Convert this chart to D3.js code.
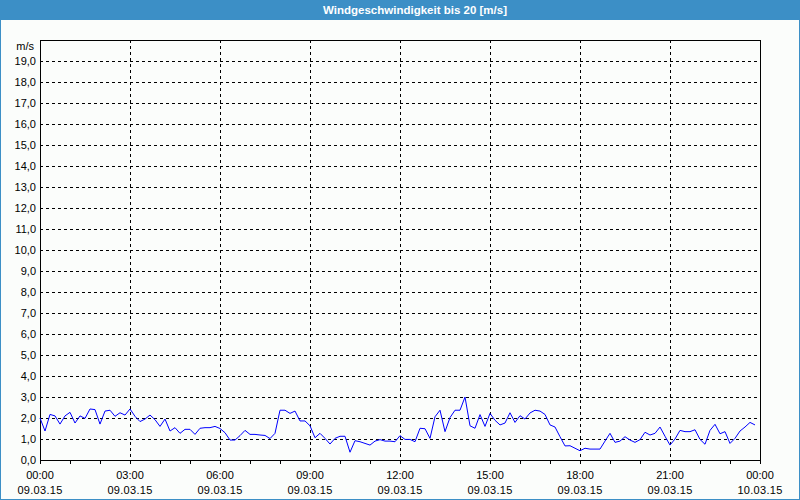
<!DOCTYPE html>
<html>
<head>
<meta charset="utf-8">
<script src="https://cdn.jsdelivr.net/npm/d3@7"></script>
<style>
html,body{margin:0;padding:0;background:#fbfdfb;}
svg{display:block;}
text{font-family:"Liberation Sans",Arial,sans-serif;}
</style>
</head>
<body>
<svg id="chart" width="800" height="500"></svg>
<script>
const title = "Windgeschwindigkeit bis 20 [m/s]";
const unitLabel = "m/s";
const startTime = "2015-03-09T00:00:00";
const stepMinutes = 10;
const windSpeed = [
  2.00,1.38,2.17,2.10,1.71,2.10,2.27,1.76,2.10,1.98,2.43,2.40,1.71,2.33,2.37,2.08,2.25,2.14,
  2.43,2.08,1.83,1.95,2.14,1.92,1.60,1.95,1.38,1.54,1.27,1.46,1.46,1.22,1.51,1.54,1.54,1.60,
  1.50,1.30,0.95,0.95,1.16,1.41,1.22,1.22,1.19,1.17,1.02,1.27,2.37,2.37,2.22,2.33,1.86,1.86,
  1.63,1.06,1.27,1.03,0.76,1.03,1.13,1.13,0.37,0.92,0.87,0.79,0.71,0.90,0.97,0.90,0.90,0.87,
  1.16,0.98,0.98,0.87,1.51,1.49,1.03,2.06,2.37,1.35,2.02,2.37,2.37,3.00,1.63,1.51,2.16,1.60,
  2.22,1.89,1.67,1.76,2.25,1.79,2.11,1.95,2.24,2.37,2.33,2.17,1.67,1.57,1.11,0.67,0.68,0.56,
  0.44,0.56,0.52,0.52,0.52,0.90,1.27,0.84,0.90,1.11,0.95,0.84,0.97,1.32,1.19,1.27,1.57,1.13,
  0.71,1.00,1.41,1.35,1.35,1.44,0.98,0.75,1.41,1.70,1.25,1.35,0.79,1.03,1.38,1.57,1.79,1.67
];
const yTickValues = d3.range(0, 20, 1);
const xTickLabels = [
  ["00:00","09.03.15"],["03:00","09.03.15"],["06:00","09.03.15"],["09:00","09.03.15"],
  ["12:00","09.03.15"],["15:00","09.03.15"],["18:00","09.03.15"],["21:00","09.03.15"],
  ["00:00","10.03.15"]
];

const svg = d3.select("#chart");
const W = 800, H = 500;
const m = {left:40, right:40, top:40, bottom:40};
const t0 = new Date(startTime);
const t1 = d3.timeDay.offset(t0, 1);
const x = d3.scaleTime().domain([t0, t1]).range([m.left, W - m.right]);
const y = d3.scaleLinear().domain([0, 20]).range([H - m.bottom, m.top]);

const data = windSpeed.map((v, i) => ({t: d3.timeMinute.offset(t0, i * stepMinutes), v}));

// background + frame
svg.append("rect").attr("x",0).attr("y",0).attr("width",W).attr("height",H).attr("fill","#fbfdfb");
svg.append("rect").attr("x",0).attr("y",0).attr("width",W).attr("height",20).attr("fill","#3c8fc6");
svg.append("rect").attr("x",0.5).attr("y",0.5).attr("width",W-1).attr("height",H-1)
  .attr("fill","none").attr("stroke","#3c8fc6");
svg.append("text").attr("x",415).attr("y",14).attr("text-anchor","middle")
  .attr("fill","#ffffff").attr("font-weight","bold").attr("font-size","11.5px").text(title);

// grid
const grid = svg.append("g").attr("shape-rendering","crispEdges");
grid.selectAll("line.h").data(yTickValues.filter(d => d > 0)).join("line")
  .attr("x1", m.left).attr("x2", W - m.right)
  .attr("y1", d => Math.round(y(d)) + 0.5).attr("y2", d => Math.round(y(d)) + 0.5)
  .attr("stroke","#000").attr("stroke-dasharray","3,3");
const vTicks = d3.timeHour.every(3).range(d3.timeHour.offset(t0,3), t1);
grid.selectAll("line.v").data(vTicks).join("line")
  .attr("x1", d => Math.round(x(d)) + 0.5).attr("x2", d => Math.round(x(d)) + 0.5)
  .attr("y1", m.top).attr("y2", H - m.bottom)
  .attr("stroke","#000").attr("stroke-dasharray","3,3");

// y axis
const yAxis = d3.axisLeft(y).tickValues(yTickValues).tickSize(0).tickPadding(4)
  .tickFormat(d => d3.format(".1f")(d).replace(".", ","));
const gy = svg.append("g").attr("transform",`translate(${m.left},0)`).call(yAxis);
gy.select(".domain").remove();
gy.selectAll("text").attr("font-size","11px").attr("fill","#000").style("font-family",'"Liberation Sans",Arial,sans-serif');
svg.append("text").attr("x",34).attr("y",50).attr("text-anchor","end")
  .attr("font-size","11px").attr("fill","#000").text(unitLabel);

// x axis: hourly minor ticks
const xAxis = d3.axisBottom(x).ticks(d3.timeHour.every(1)).tickSize(4).tickFormat("");
const gx = svg.append("g").attr("transform",`translate(0,${H - m.bottom})`)
  .attr("shape-rendering","crispEdges").call(xAxis);
gx.select(".domain").remove();
gx.selectAll("line").attr("stroke","#000");

const labelTimes = d3.timeHour.every(3).range(t0, d3.timeMinute.offset(t1,1));
const lab = svg.append("g");
lab.selectAll("text.time").data(labelTimes).join("text")
  .attr("x", d => x(d)).attr("y", 479).attr("text-anchor","middle")
  .attr("font-size","11px").attr("fill","#000").text((d,i) => xTickLabels[i][0]);
lab.selectAll("text.date").data(labelTimes).join("text")
  .attr("x", d => x(d)).attr("y", 494).attr("text-anchor","middle")
  .attr("font-size","11px").attr("fill","#000").attr("letter-spacing","0.3px")
  .text((d,i) => xTickLabels[i][1]);

// plot frame
svg.append("rect").attr("x", m.left + 0.5).attr("y", m.top + 0.5)
  .attr("width", W - m.left - m.right).attr("height", H - m.top - m.bottom)
  .attr("fill","none").attr("stroke","#000").attr("shape-rendering","crispEdges");

// line
const line = d3.line().x(d => x(d.t)).y(d => y(d.v));
svg.append("path").datum(data).attr("d", line)
  .attr("fill","none").attr("stroke","#0000ff").attr("stroke-width",1);
</script>
</body>
</html>
